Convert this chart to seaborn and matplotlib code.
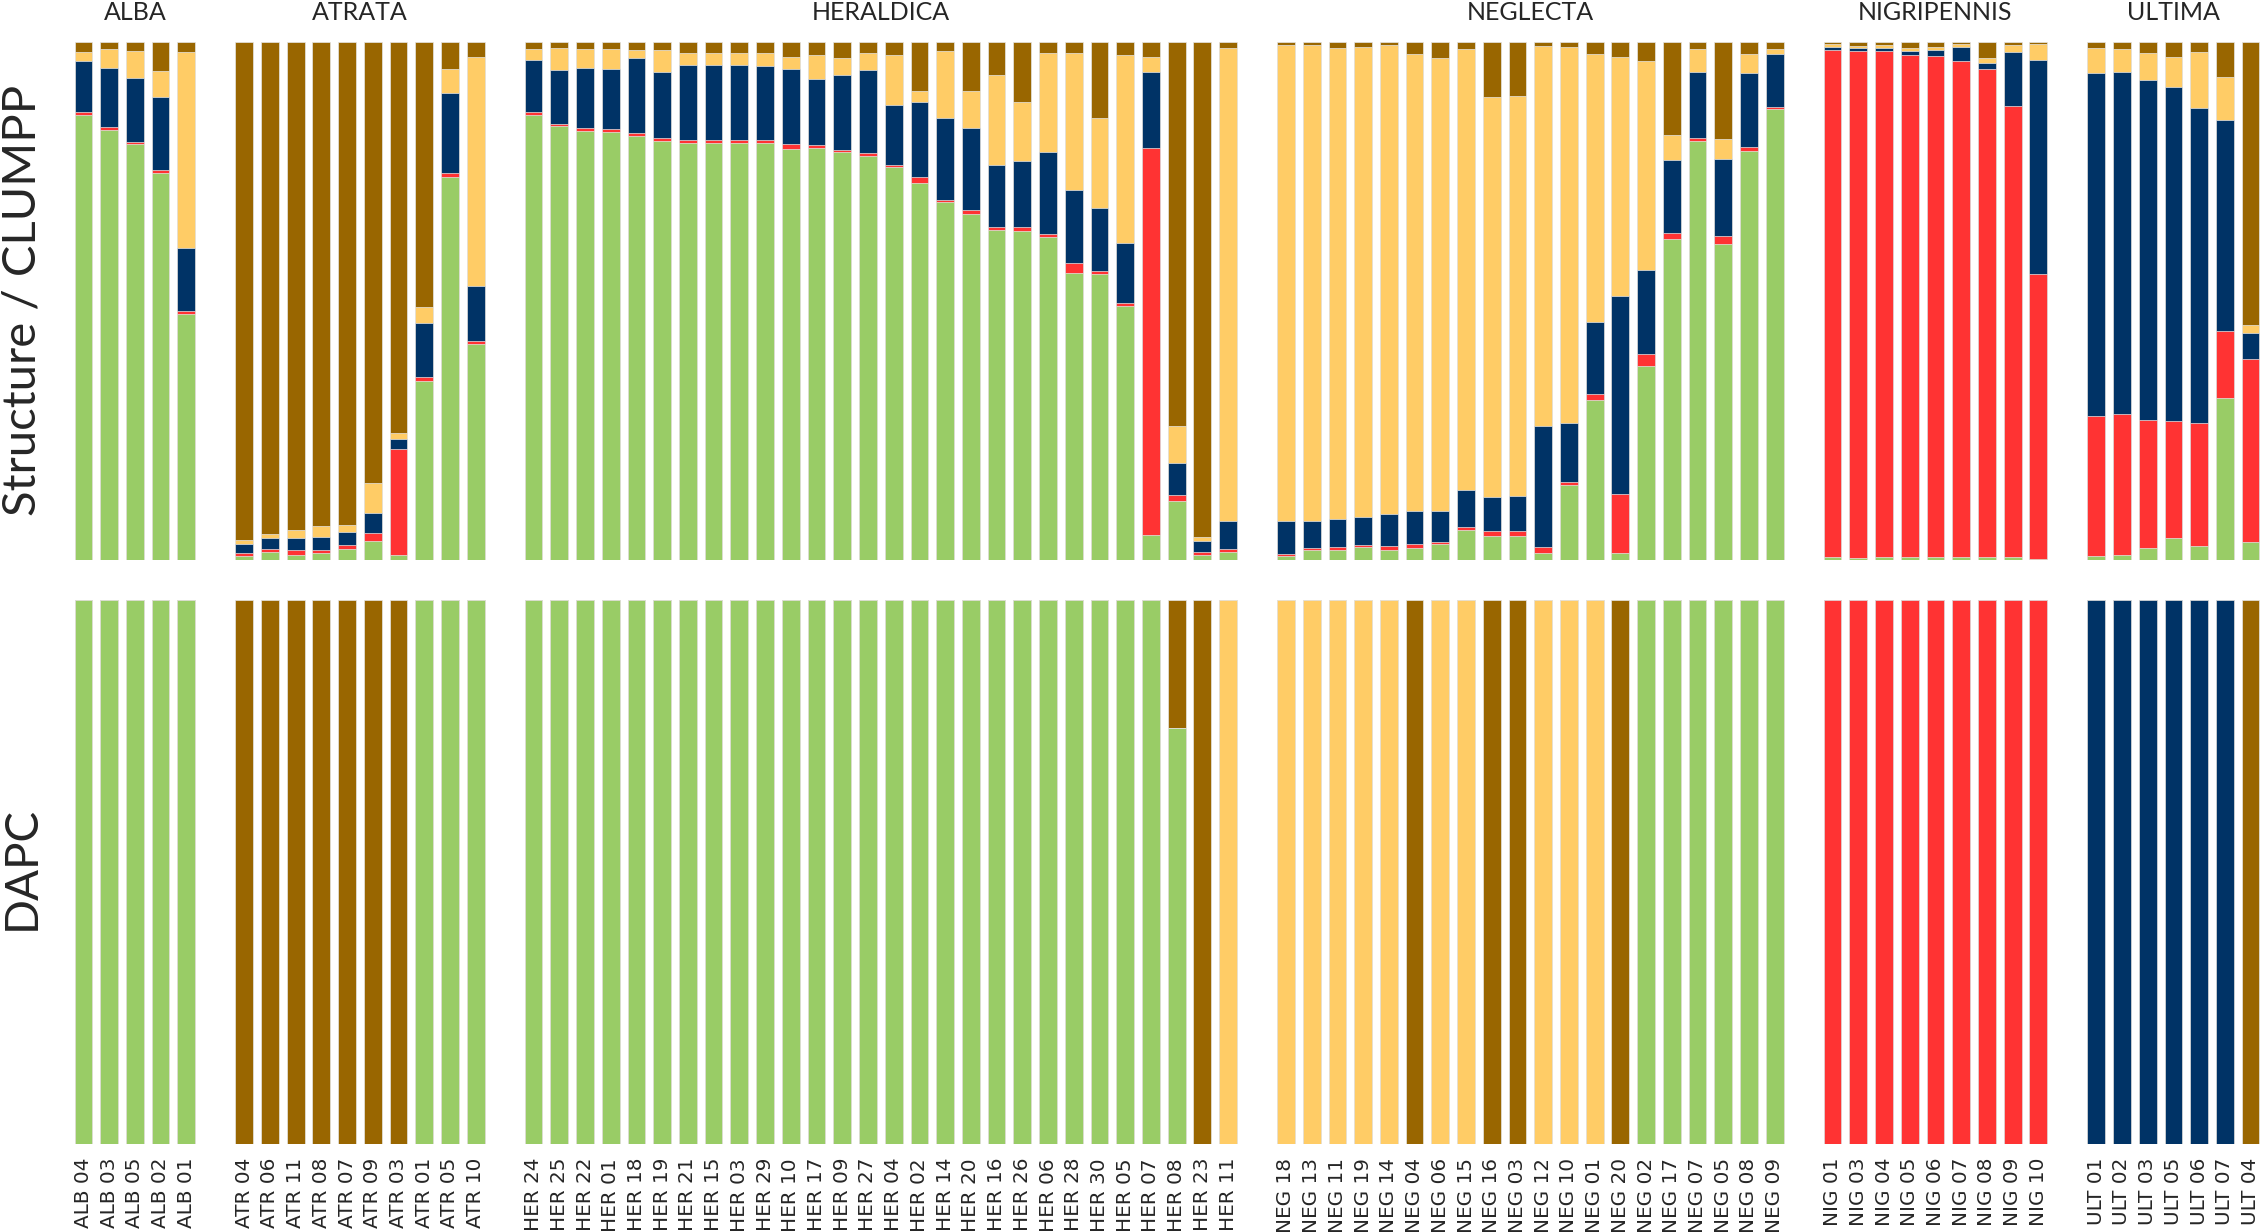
import numpy as np
import pandas as pd
import matplotlib
matplotlib.use("Agg")
import matplotlib.pyplot as plt
import matplotlib.transforms as mtransforms
import seaborn as sns

groups = ["ALBA", "ATRATA", "HERALDICA", "NEGLECTA", "NIGRIPENNIS", "ULTIMA"]
samples = [
    ["ALB 04", "ALB 03", "ALB 05", "ALB 02", "ALB 01"],
    ["ATR 04", "ATR 06", "ATR 11", "ATR 08", "ATR 07", "ATR 09", "ATR 03", "ATR 01", "ATR 05", "ATR 10"],
    ["HER 24", "HER 25", "HER 22", "HER 01", "HER 18", "HER 19", "HER 21", "HER 15", "HER 03", "HER 29",
     "HER 10", "HER 17", "HER 09", "HER 27", "HER 04", "HER 02", "HER 14", "HER 20", "HER 16", "HER 26",
     "HER 06", "HER 28", "HER 30", "HER 05", "HER 07", "HER 08", "HER 23", "HER 11"],
    ["NEG 18", "NEG 13", "NEG 11", "NEG 19", "NEG 14", "NEG 04", "NEG 06", "NEG 15", "NEG 16", "NEG 03",
     "NEG 12", "NEG 10", "NEG 01", "NEG 20", "NEG 02", "NEG 17", "NEG 07", "NEG 05", "NEG 08", "NEG 09"],
    ["NIG 01", "NIG 03", "NIG 04", "NIG 05", "NIG 06", "NIG 07", "NIG 08", "NIG 09", "NIG 10"],
    ["ULT 01", "ULT 02", "ULT 03", "ULT 05", "ULT 06", "ULT 07", "ULT 04"],
]

# Structure / CLUMPP membership, one value per sample (same order as above)
q_green = [.859, .829, .803, .748, .475,
           .007, .016, .010, .013, .021, .036, .010, .345, .740, .418,
           .858, .838, .828, .827, .819, .810, .805, .805, .805, .804, .794, .794, .786, .780,
           .758, .728, .690, .668, .637, .634, .623, .554, .551, .490, .048, .114, .010, .016,
           .007, .019, .019, .024, .019, .024, .030, .057, .046, .046,
           .013, .144, .309, .013, .375, .621, .809, .610, .789, .871,
           .005, .004, .005, .005, .006, .005, .006, .006, .002,
           .007, .010, .024, .042, .027, .312, .034]
q_red = [.005, .005, .005, .006, .006,
         .006, .006, .009, .006, .007, .016, .204, .008, .006, .005,
         .006, .004, .004, .005, .006, .005, .006, .005, .005, .005, .008, .007, .005, .006,
         .004, .011, .004, .008, .006, .008, .006, .019, .006, .006, .747, .012, .005, .006,
         .005, .005, .006, .005, .007, .007, .005, .006, .009, .009,
         .011, .006, .011, .114, .022, .010, .006, .016, .009, .004,
         .980, .978, .982, .970, .967, .959, .941, .870, .550,
         .270, .272, .247, .226, .237, .130, .353]
q_navy = [.100, .114, .124, .141, .122,
          .018, .021, .024, .025, .026, .038, .020, .104, .156, .106,
          .100, .104, .116, .116, .143, .127, .144, .145, .145, .144, .145, .127, .144, .160,
          .117, .145, .158, .157, .119, .128, .157, .140, .123, .116, .146, .061, .021, .054,
          .063, .052, .054, .054, .062, .063, .059, .072, .067, .068,
          .235, .114, .138, .383, .162, .142, .127, .147, .142, .101,
          .005, .007, .006, .007, .011, .027, .013, .104, .413,
          .663, .660, .656, .644, .608, .408, .050]
q_yellow = [.016, .037, .051, .049, .377,
            .007, .008, .014, .021, .014, .059, .011, .031, .046, .443,
            .021, .043, .037, .038, .016, .043, .024, .024, .024, .025, .024, .046, .032, .033,
            .095, .022, .130, .073, .173, .114, .192, .265, .173, .362, .029, .072, .008, .911,
            .919, .918, .908, .906, .906, .883, .874, .852, .773, .773,
            .733, .727, .517, .461, .405, .048, .044, .039, .036, .010,
            .006, .004, .005, .007, .007, .005, .009, .013, .030,
            .048, .046, .052, .059, .109, .083, .016]
q_brown = [.020, .014, .018, .057, .020,
           .962, .949, .943, .935, .931, .851, .755, .511, .052, .029,
           .014, .011, .014, .014, .016, .016, .021, .021, .021, .021, .029, .025, .032, .022,
           .026, .094, .017, .094, .064, .116, .021, .021, .147, .026, .030, .742, .956, .012,
           .006, .006, .012, .010, .006, .023, .032, .014, .106, .105,
           .007, .009, .024, .029, .036, .180, .014, .188, .024, .014,
           .004, .007, .006, .011, .009, .004, .031, .006, .004,
           .012, .013, .022, .029, .019, .067, .546]

# DAPC assignment (G green, R red, N navy, Y yellow, B brown)
dapc_assign = (["G"] * 5
               + ["B"] * 7 + ["G"] * 3
               + ["G"] * 25 + ["B", "B", "Y"]
               + ["Y", "Y", "Y", "Y", "Y", "B", "Y", "Y", "B", "B", "Y", "Y", "Y", "B", "G", "G", "G", "G", "G", "G"]
               + ["R"] * 9
               + ["N"] * 6 + ["B"])
dapc_mixed = {"HER 08": {"green": 0.765, "brown": 0.235}}

clusters = ["green", "red", "navy", "yellow", "brown"]
colors = {"green": "#99cc66", "red": "#ff3333", "navy": "#003366",
          "yellow": "#ffcc66", "brown": "#996600"}
letter = {"G": "green", "R": "red", "N": "navy", "Y": "yellow", "B": "brown"}

# sample table with positions (extra gap between species)
rows = []
i = 0
for g, (grp, names) in enumerate(zip(groups, samples)):
    for name in names:
        rows.append({"sample": name, "group": grp, "x": i + 1.25 * g})
        i += 1
df = pd.DataFrame(rows)

struct = pd.DataFrame({"green": q_green, "red": q_red, "navy": q_navy,
                       "yellow": q_yellow, "brown": q_brown})
struct = struct.div(struct.sum(axis=1), axis=0)

dapc = pd.DataFrame(0.0, index=range(len(df)), columns=clusters)
for k, a in enumerate(dapc_assign):
    dapc.loc[k, letter[a]] = 1.0
for name, mix in dapc_mixed.items():
    k = df.index[df["sample"] == name][0]
    dapc.loc[k, :] = 0.0
    for c, v in mix.items():
        dapc.loc[k, c] = v

sns.set_style("white")
plt.rcParams["font.family"] = ["DejaVu Sans"]
title_font = ["Lato", "DejaVu Sans"]

fig = plt.figure(figsize=(22.66, 12.32), dpi=100)
ax_top = fig.add_axes([0.030, 0.5455, 0.970, 0.4205])
ax_bot = fig.add_axes([0.030, 0.0714, 0.970, 0.4416])


def plot_stacked(ax, q):
    cum = q[clusters].cumsum(axis=1)
    for c in reversed(clusters):
        d = pd.DataFrame({"x": df["x"], "top": cum[c]})
        sns.barplot(data=d, x="x", y="top", native_scale=True, width=0.69,
                    color=colors[c], saturation=1, errorbar=None,
                    edgecolor="#e6e6e6", linewidth=0.5, ax=ax)
    ax.set_xlim(-0.6, df["x"].max() + 0.6)
    ax.set_ylim(0, 1)
    ax.set_xlabel("")
    ax.set_ylabel("")
    ax.set_yticks([])
    for s in ax.spines.values():
        s.set_visible(False)


plot_stacked(ax_top, struct)
plot_stacked(ax_bot, dapc)

ax_top.set_xticks([])
ax_bot.set_xticks(df["x"])
ax_bot.set_xticklabels(df["sample"], rotation=90, fontsize=14.4)
ax_bot.tick_params(axis="x", length=0, pad=10)

trans = mtransforms.blended_transform_factory(ax_top.transData, fig.transFigure)
for grp in groups:
    xc = df.loc[df["group"] == grp, "x"].mean()
    ax_top.text(xc, 1 - 20 / 1232, grp, transform=trans, ha="center", va="baseline",
                fontsize=18, family=title_font)

fig.text(1 / 2266, 1 - 300 / 1232, "Structure / CLUMPP", rotation=90, ha="left", va="center",
         fontsize=34, family=title_font)
fig.text(1 / 2266, 1 - 868 / 1232, "DAPC", rotation=90, ha="left", va="center",
         fontsize=33, family=title_font)

fig.savefig("out.png", dpi=100)
